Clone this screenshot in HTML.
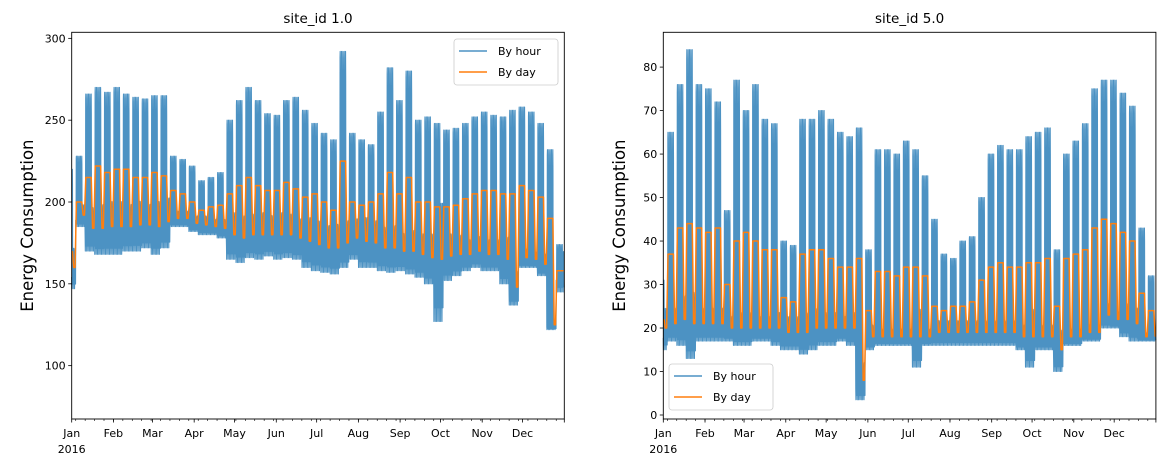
<!DOCTYPE html>
<html><head><meta charset="utf-8">
<style>
body{margin:0;background:#fff;}
svg{display:block;font-family:"DejaVu Sans","Liberation Sans",sans-serif;}
</style></head>
<body>
<svg id="chart" width="1165" height="467" viewBox="0 0 1165 467"></svg>
<script>
// ---- data (weekly, weeks start Monday; week 0 = Jan 1-3 2016) ----
const monthLabels = ["Jan","Feb","Mar","Apr","May","Jun","Jul","Aug","Sep","Oct","Nov","Dec"];
const monthStartDays = [0,31,60,91,121,152,182,213,244,274,305,335];
const s1Ticks = [100,150,200,250,300];
const s5Ticks = [0,10,20,30,40,50,60,70,80];
const s1Peak = [220,228,266,270,267,270,266,264,263,265,265,228,226,222,213,215,218,250,262,270,262,254,253,262,264,256,248,242,238,292,242,238,235,255,282,262,280,250,252,248,244,245,248,252,255,253,252,256,258,255,248,232,174];
const s1Low = [147,185,170,168,168,168,170,170,172,168,172,185,185,182,180,180,178,165,163,166,165,167,165,166,165,160,158,157,156,160,165,160,160,158,157,158,156,154,150,127,152,155,158,160,158,158,150,137,160,160,155,122,145];
const s1DayWk = [170,200,215,222,218,220,220,215,215,218,216,207,205,200,195,197,198,205,210,215,210,207,207,212,208,203,205,200,195,225,200,198,200,205,218,205,215,200,200,197,197,198,202,205,207,207,205,205,210,207,203,190,158];
const s1DayWe = [160,192,184,184,185,185,185,186,186,185,188,190,190,187,186,185,184,180,178,180,180,180,180,180,178,176,174,172,172,175,178,176,175,172,172,170,170,168,166,165,167,168,168,170,168,168,165,148,166,165,162,125,158];
const s5Peak = [31,65,76,84,76,75,72,47,77,70,76,68,67,40,39,68,68,70,68,65,64,66,38,61,61,60,63,61,55,45,37,36,40,41,50,60,62,61,61,64,65,66,38,60,63,67,75,77,77,74,71,43,32];
const s5Low = [15,17,16,13,17,17,17,17,16,16,17,17,16,15,15,14,15,16,16,17,16,3.5,15,16,16,16,16,11,16,16,16,16,16,16,16,16,16,16,15,11,15,15,10,16,16,17,17,20,20,18,17,17,17];
const s5DayWk = [22,37,43,44,43,42,43,30,40,42,40,38,38,27,26,37,38,38,36,34,34,36,24,33,33,32,34,34,32,25,24,25,25,26,31,34,35,34,34,35,35,36,25,36,37,38,43,45,44,42,40,28,24];
const s5DayWe = [20,21,22,21,21,21,21,20,20,20,20,20,20,19,19,19,20,20,20,20,20,8,18,18,18,18,18,18,18,19,19,19,19,19,19,19,19,19,18,18,18,18,15,18,18,19,19,23,22,22,21,18,18];

const NS="http://www.w3.org/2000/svg";
const svg=document.getElementById('chart');
function mk(tag,attrs,parent){const e=document.createElementNS(NS,tag);for(const k in attrs)e.setAttribute(k,attrs[k]);(parent||svg).appendChild(e);return e;}

function panel(cfg){
  const x0=cfg.x0,x1=cfg.x0+492.6,y0=32.3,y1=419;
  const g=mk('g',{});
  
  
  const xs=d=>x0+d*(x1-x0)/366;
  const ys=v=>y1-(v-cfg.ymin)*(y1-y0)/(cfg.ymax-cfg.ymin);
  const wk=d=>Math.floor((d+4)/7);
  const isWe=d=>((d+4)%7)>=5;
  // hourly series (daily profile shape)
  let p="";
  for(let d=0;d<366;d++){
    const w=wk(d);
    const lo=cfg.low[w];
    const we=isWe(d);
    const night=lo+(cfg.dwe[w]-lo)*0.55;
    const hi=we?cfg.dwe[w]+(cfg.dwe[w]-lo)*0.9:cfg.peak[w];
    const pts=[[0,night],[0.12,lo],[0.25,night+(d%3)*0.01*(hi-lo)],[0.38,hi*0.97+lo*0.03],[0.48,hi],[0.58,hi-(hi-lo)*0.12],[0.72,night],[0.85,lo+(night-lo)*0.4]];
    pts.forEach((pt,i)=>{p+=((d===0&&i===0)?"M":"L")+xs(d+pt[0]).toFixed(2)+","+ys(pt[1]).toFixed(2);});
  }
  const hp=mk('path',{d:p,fill:'none',stroke:'#1f77b4','stroke-opacity':0.8,'stroke-width':1.1,'stroke-linejoin':'round'},g);
  
  
  let q="";
  for(let d=0;d<366;d++){
    const w=wk(d);const v=isWe(d)?cfg.dwe[w]:cfg.dwk[w];
    q+=(d===0?"M":"L")+xs(d+0.5).toFixed(2)+","+ys(v).toFixed(2);
  }
  const dp=mk('path',{d:q,fill:'none',stroke:'#ff7f0e','stroke-width':1.5,'stroke-linejoin':'round'},g);
  
  
  // frame
  mk('rect',{x:x0,y:y0,width:x1-x0,height:y1-y0,fill:'none',stroke:'#000','stroke-width':0.9},g);
  cfg.ticks.forEach(t=>{const y=ys(t);
    mk('line',{x1:x0-3.5,x2:x0,y1:y,y2:y,stroke:'#000','stroke-width':0.8},g);
    const tx=mk('text',{x:x0-6,y:y+4,'text-anchor':'end','font-size':11,fill:'#000'},g);tx.textContent=t;
    
    
  });
  for(let d=3;d<366;d+=7){mk('line',{x1:xs(d),x2:xs(d),y1:y1,y2:y1+2,stroke:'#000','stroke-width':0.6},g);}
  monthStartDays.forEach((d,i)=>{const x=xs(d);
    mk('line',{x1:x,x2:x,y1:y1,y2:y1+3.5,stroke:'#000','stroke-width':0.8},g);
    const tx=mk('text',{x:x,y:y1+18,'text-anchor':'middle','font-size':11,fill:'#000'},g);tx.textContent=monthLabels[i];
    
    
  });
  mk('line',{x1:x1,x2:x1,y1:y1,y2:y1+3.5,stroke:'#000','stroke-width':0.8},g);
  const yr=mk('text',{x:x0,y:y1+34,'text-anchor':'middle','font-size':11},g);yr.textContent="2016";
  const ti=mk('text',{x:(x0+x1)/2,y:23,'text-anchor':'middle','font-size':13.5},g);ti.textContent=cfg.title;
  
  
  const yl=mk('text',{x:0,y:0,'text-anchor':'middle','font-size':16.5,transform:`translate(${cfg.ylx},${(y0+y1)/2}) rotate(-90)`},g);yl.textContent="Energy Consumption";
  
  
  const L=cfg.leg;
  const lg=mk('g',{},g);
  
  
  mk('rect',{x:L.x,y:L.y,width:L.w,height:46,rx:3,fill:'#fff','fill-opacity':0.8,stroke:'#ccc','stroke-width':0.8},lg);
  mk('line',{x1:L.x+5,x2:L.x+33,y1:L.y+12,y2:L.y+12,stroke:'#1f77b4','stroke-opacity':0.8,'stroke-width':1.5},lg);
  mk('line',{x1:L.x+5,x2:L.x+33,y1:L.y+33,y2:L.y+33,stroke:'#ff7f0e','stroke-width':1.5},lg);
  const a=mk('text',{x:L.x+44,y:L.y+16,'font-size':11},lg);a.textContent="By hour";
  const b=mk('text',{x:L.x+44,y:L.y+37,'font-size':11},lg);b.textContent="By day";
}
panel({name:'panel-site-1',x0:71.7,ymin:67.4,ymax:303.7,ticks:s1Ticks,peak:s1Peak,low:s1Low,dwk:s1DayWk,dwe:s1DayWe,title:'site_id 1.0',ylx:33,leg:{x:454,y:39,w:104}});
panel({name:'panel-site-5',x0:663.3,ymin:-0.92,ymax:88,ticks:s5Ticks,peak:s5Peak,low:s5Low,dwk:s5DayWk,dwe:s5DayWe,title:'site_id 5.0',ylx:625,leg:{x:669,y:364,w:104}});
</script>
</body></html>
